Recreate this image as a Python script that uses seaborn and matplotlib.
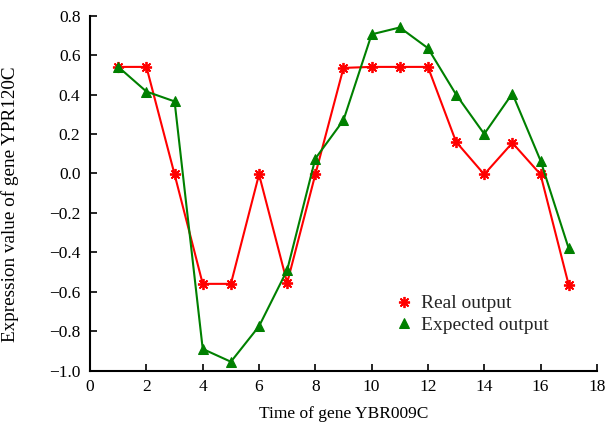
import matplotlib
matplotlib.use("Agg")
import matplotlib.pyplot as plt
import seaborn as sns
import pandas as pd

time = list(range(1, 18))
real_output = [0.54, 0.54, -0.005, -0.56, -0.56, -0.005, -0.555, -0.005, 0.535,
               0.54, 0.54, 0.54, 0.16, -0.005, 0.155, -0.005, -0.565]
expected_output = [0.54, 0.415, 0.365, -0.89, -0.955, -0.775, -0.49, 0.075, 0.27,
                   0.705, 0.74, 0.635, 0.40, 0.20, 0.405, 0.065, -0.38]

sns.set_theme(style="white")
plt.rcParams['font.family'] = ['Liberation Serif', 'DejaVu Serif']
plt.rcParams['mathtext.fontset'] = 'stix'

fig = plt.figure(figsize=(6.09, 4.34), dpi=100)
ax = fig.add_axes([0.148, 0.146, 0.832, 0.818])

df_r = pd.DataFrame({"t": time, "v": real_output})
df_e = pd.DataFrame({"t": time, "v": expected_output})

sns.lineplot(data=df_r, x="t", y="v", ax=ax, color="#ff0000", marker=(8, 2, 0),
             markersize=8, markeredgewidth=1.3, markeredgecolor="#ff0000",
             linewidth=1.5, label="Real output")
sns.lineplot(data=df_e, x="t", y="v", ax=ax, color="#008000", marker="^",
             markersize=7, markeredgecolor="#008000", linewidth=1.5,
             label="Expected output")

ax.set_xlim(0, 18)
ax.set_ylim(-1.0, 0.8)
ax.set_xticks(range(0, 19, 2))
ax.set_yticks([-1.0, -0.8, -0.6, -0.4, -0.2, 0.0, 0.2, 0.4, 0.6, 0.8])
ax.set_yticklabels([f"{v:.1f}".replace("-", "\u2212") for v in ax.get_yticks()])
ax.tick_params(direction="in", length=5, width=1.2, labelsize=12.5, colors="black",
               left=True, bottom=True)
ax.tick_params(axis="x", pad=6)
ax.tick_params(axis="y", pad=7)
for s in ["top", "right"]:
    ax.spines[s].set_visible(False)
for s in ["left", "bottom"]:
    ax.spines[s].set_color("black")
    ax.spines[s].set_linewidth(1.5)

ax.set_xlabel("Time of gene YBR009C", fontsize=12.5, color="black", labelpad=8)
ax.set_ylabel("Expression value of gene YPR120C", fontsize=13.8, color="black")
ax.yaxis.set_label_coords(-0.141, 0.469)

leg = ax.legend(loc="lower left", bbox_to_anchor=(0.577, 0.065), frameon=False,
                fontsize=14, handlelength=0.8, handletextpad=0.5, labelspacing=0.2,
                borderpad=0.2)
for line in leg.get_lines():
    line.set_linestyle("None")

fig.savefig("out.png", dpi=100)
